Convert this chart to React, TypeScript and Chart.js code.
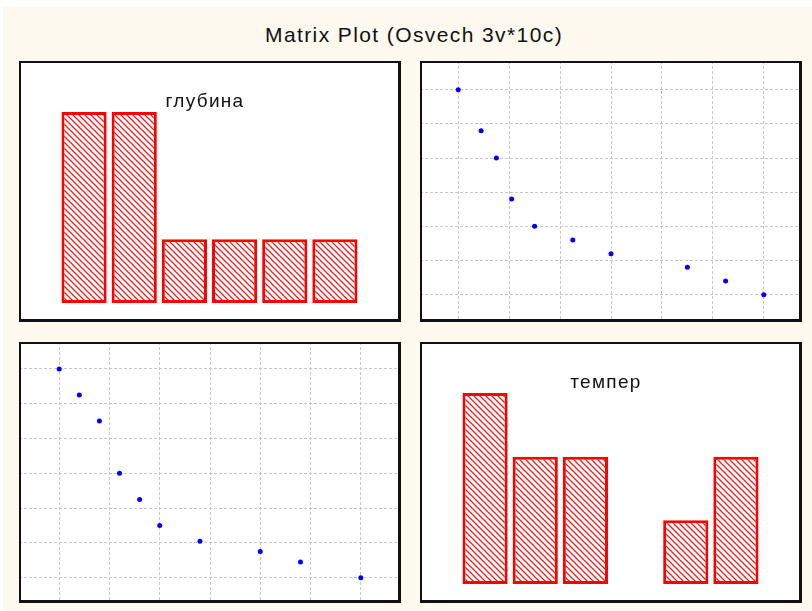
import React, { useEffect, useRef } from "react";
import { Chart, registerables } from "chart.js";

Chart.register(...registerables);

// ---------------- data ----------------
const TITLE = "Matrix Plot (Osvech 3v*10c)";
const varNames = ["глубина", "темпер"];

// 10 cases
const depth = [0, 1, 2, 3, 4, 5, 7, 10, 12, 15];
const temper = [12, 11, 10, 8, 7, 6, 5.4, 5, 4.6, 4];

// histogram bins and counts (diagonal cells)
const depthBins = ["0-2.5", "2.5-5", "5-7.5", "7.5-10", "10-12.5", "12.5-15"];
const depthCounts = [3, 3, 1, 1, 1, 1];
const temperBins = ["4-5.33", "5.33-6.67", "6.67-8", "8-9.33", "9.33-10.67", "10.67-12"];
const temperCounts = [3, 2, 2, 0, 1, 2];

// grid tick positions (no labels shown)
const depthTicks = [0, 2.5, 5, 7.5, 10, 12.5, 15];
const temperTicks = [4, 5.333, 6.667, 8, 9.333, 10.667, 12];

// ---------------- layout ----------------
const PW = 382;
const PH = 261;
const BG = "#fdf9ee";

function makeHatch(): CanvasPattern | string {
  const c = document.createElement("canvas");
  c.width = 6;
  c.height = 6;
  const g = c.getContext("2d");
  if (!g) return "rgba(255,0,0,0.5)";
  g.fillStyle = "#ffffff";
  g.fillRect(0, 0, 6, 6);
  g.strokeStyle = "#ff1a1a";
  g.lineWidth = 1.3;
  for (const o of [-6, 0, 6]) {
    g.beginPath();
    g.moveTo(o - 1, -1);
    g.lineTo(o + 7, 7);
    g.stroke();
  }
  return g.createPattern(c, "repeat") || "rgba(255,0,0,0.5)";
}

const framePlugin = {
  id: "frame",
  beforeDraw(chart: any) {
    const { ctx, width, height } = chart;
    ctx.save();
    ctx.fillStyle = "#ffffff";
    ctx.fillRect(0, 0, width, height);
    ctx.restore();
  },
  afterDraw(chart: any, _args: any, opts: any) {
    const { ctx, width, height } = chart;
    ctx.save();
    if (opts && opts.label) {
      ctx.font = '19px "Liberation Sans", Arial, sans-serif';
      try {
        (ctx as any).letterSpacing = "1.3px";
      } catch (e) {}
      ctx.fillStyle = "#111111";
      ctx.textAlign = "center";
      ctx.textBaseline = "alphabetic";
      ctx.fillText(opts.label, width / 2 - 5, 46);
      try {
        (ctx as any).letterSpacing = "0px";
      } catch (e) {}
    }
    ctx.fillStyle = "#111111";
    ctx.fillRect(0, 0, width, 2);
    ctx.fillRect(0, 0, 2, height);
    ctx.fillRect(width - 3, 0, 3, height);
    ctx.fillRect(0, height - 3, width, 3);
    ctx.restore();
  },
};

function gridAxis(min: number, max: number, ticks: number[]) {
  return {
    type: "linear",
    min,
    max,
    afterBuildTicks: (s: any) => {
      s.ticks = ticks.map((v) => ({ value: v }));
    },
    ticks: { display: false },
    grid: { color: "#c8c8c8", lineWidth: 1, drawTicks: false },
    border: { display: false, dash: [3, 2] },
  };
}

function scatterConfig(
  xs: number[],
  ys: number[],
  xr: [number, number],
  yr: [number, number],
  xt: number[],
  yt: number[]
): any {
  return {
    type: "scatter",
    data: {
      datasets: [
        {
          data: xs.map((x, i) => ({ x, y: ys[i] })),
          backgroundColor: "#0000ff",
          borderColor: "#0000ff",
          borderWidth: 0,
          pointRadius: 2.5,
        },
      ],
    },
    options: {
      responsive: false,
      animation: false,
      events: [],
      layout: { padding: 0, autoPadding: false },
      plugins: { legend: { display: false }, tooltip: { enabled: false }, frame: {} },
      scales: {
        x: gridAxis(xr[0], xr[1], xt),
        y: gridAxis(yr[0], yr[1], yt),
      },
    },
    plugins: [framePlugin],
  };
}

function histConfig(labels: string[], counts: number[], label: string): any {
  return {
    type: "bar",
    data: {
      labels,
      datasets: [
        {
          data: counts,
          backgroundColor: makeHatch(),
          borderColor: "#ff0000",
          borderWidth: 3,
          borderSkipped: false,
          barPercentage: 0.9,
          categoryPercentage: 1,
        },
      ],
    },
    options: {
      responsive: false,
      animation: false,
      events: [],
      layout: { padding: { left: 40, right: 41, top: 0, bottom: 19 }, autoPadding: false },
      plugins: { legend: { display: false }, tooltip: { enabled: false }, frame: { label } },
      scales: {
        x: { display: false },
        y: { display: false, min: 0, max: 3.8 },
      },
    },
    plugins: [framePlugin],
  };
}

function Panel({ left, top, build }: { left: number; top: number; build: () => any }) {
  const ref = useRef<HTMLCanvasElement>(null);
  useEffect(() => {
    if (!ref.current) return;
    const chart = new Chart(ref.current, build());
    return () => chart.destroy();
  }, []);
  return (
    <div style={{ position: "absolute", left, top, width: PW, height: PH }}>
      <canvas
        ref={ref}
        width={PW}
        height={PH}
        style={{ display: "block", width: PW, height: PH }}
      />
    </div>
  );
}

export default function App() {
  return (
    <div
      style={{
        position: "absolute",
        left: 0,
        top: 0,
        width: 812,
        height: 611,
        background: "#ffffff",
        overflow: "hidden",
      }}
    >
      <div
        style={{
          position: "absolute",
          left: 3,
          top: 7,
          right: 0,
          bottom: 0,
          background: BG,
        }}
      />
      <div
        style={{
          position: "absolute",
          left: 265,
          top: 23,
          whiteSpace: "nowrap",
          font: '21px "Liberation Sans", Arial, sans-serif',
          lineHeight: "24px",
          letterSpacing: "1.4px",
          color: "#111111",
        }}
      >
        {TITLE}
      </div>
      <Panel left={19} top={61} build={() => histConfig(depthBins, depthCounts, varNames[0])} />
      <Panel
        left={420}
        top={61}
        build={() => scatterConfig(temper, depth, [3, 13], [-2, 17.1], temperTicks, depthTicks)}
      />
      <Panel
        left={19}
        top={342}
        build={() => scatterConfig(depth, temper, [-2, 17], [3.03, 13.03], depthTicks, temperTicks)}
      />
      <Panel left={420} top={342} build={() => histConfig(temperBins, temperCounts, varNames[1])} />
    </div>
  );
}
